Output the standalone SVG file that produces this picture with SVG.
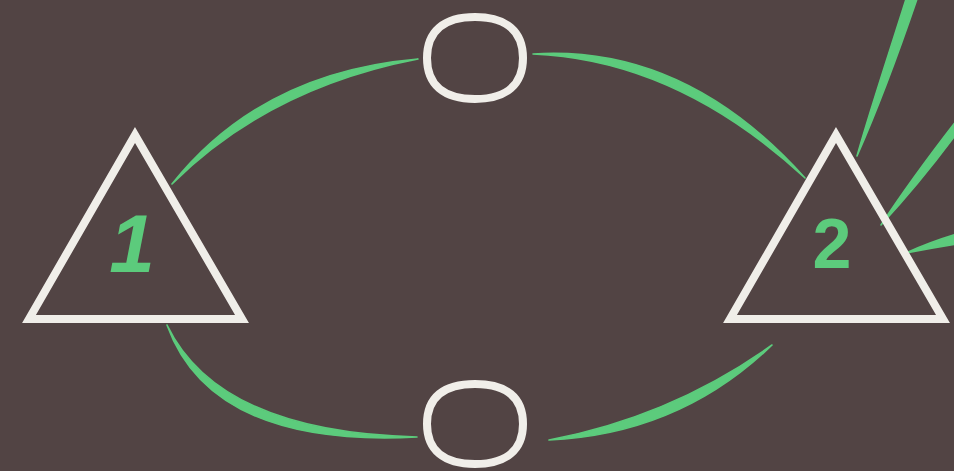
<svg xmlns="http://www.w3.org/2000/svg" width="954" height="471" viewBox="0 0 954 471">
<style>
.tri{fill:none;stroke:#f0eee9;stroke-width:8;stroke-linejoin:miter}
.ell{fill:none;stroke:#f0eee9;stroke-width:8}
.brush{fill:#5ccb7c;stroke:#5ccb7c;stroke-width:1.6;stroke-linejoin:round}
.lbl{fill:#5ccb7c;font-family:"Liberation Sans",Arial,sans-serif;font-weight:bold;text-anchor:middle}
</style>
<rect width="954" height="471" fill="#524444"/>
<g id="connectors">
<path class="brush" d="M172,184 C236.5,119.9 318.5,78.2 418,59 C313.5,67.8 231.5,109.5 172,184 Z"/>
<path class="brush" d="M533,54 C629.3,58 719.9,99.3 805,178 C724.8,88.7 634.2,47.4 533,54 Z"/>
<path class="brush" d="M167,325 C196.6,407 279.9,444.3 417,437 C284.7,433.7 201.4,396.4 167,325 Z"/>
<path class="brush" d="M549,440 C635.9,436.2 710.3,404.6 772,345 C705.1,392.8 630.7,424.4 549,440 Z"/>
<path class="brush" d="M857,156 C870,110 890,50 907,-4 L918,-4 C898,55 875,115 857,156 Z"/>
<path class="brush" d="M881,225 Q912,178 957,120 L957,133 Q920,183 881,225 Z"/>
<path class="brush" d="M906,253 Q930,242 957,234 L957,244 Q932,248 906,253 Z"/>
</g>
<g id="node-1">
<path class="tri" d="M135,135 L29,319 L242,319 Z"/>
<text class="lbl" x="132" y="272" font-size="82" font-style="italic">1</text>
</g>
<g id="node-2">
<path class="tri" d="M836,135 L730,319 L943,319 Z"/>
<text class="lbl" x="832" y="268" font-size="70">2</text>
</g>
<g id="node-top">
<path class="ell" d="M475,17 C506.2,17 523,31.3 523,58 C523,84.7 506.2,99 475,99 C443.8,99 427,84.7 427,58 C427,31.3 443.8,17 475,17 Z"/>
</g>
<g id="node-bottom">
<path class="ell" d="M475,384 C506.2,384 523,397 523,424 C523,450 506.2,464 475,464 C443.8,464 427,450 427,424 C427,397 443.8,384 475,384 Z"/>
</g>
</svg>
